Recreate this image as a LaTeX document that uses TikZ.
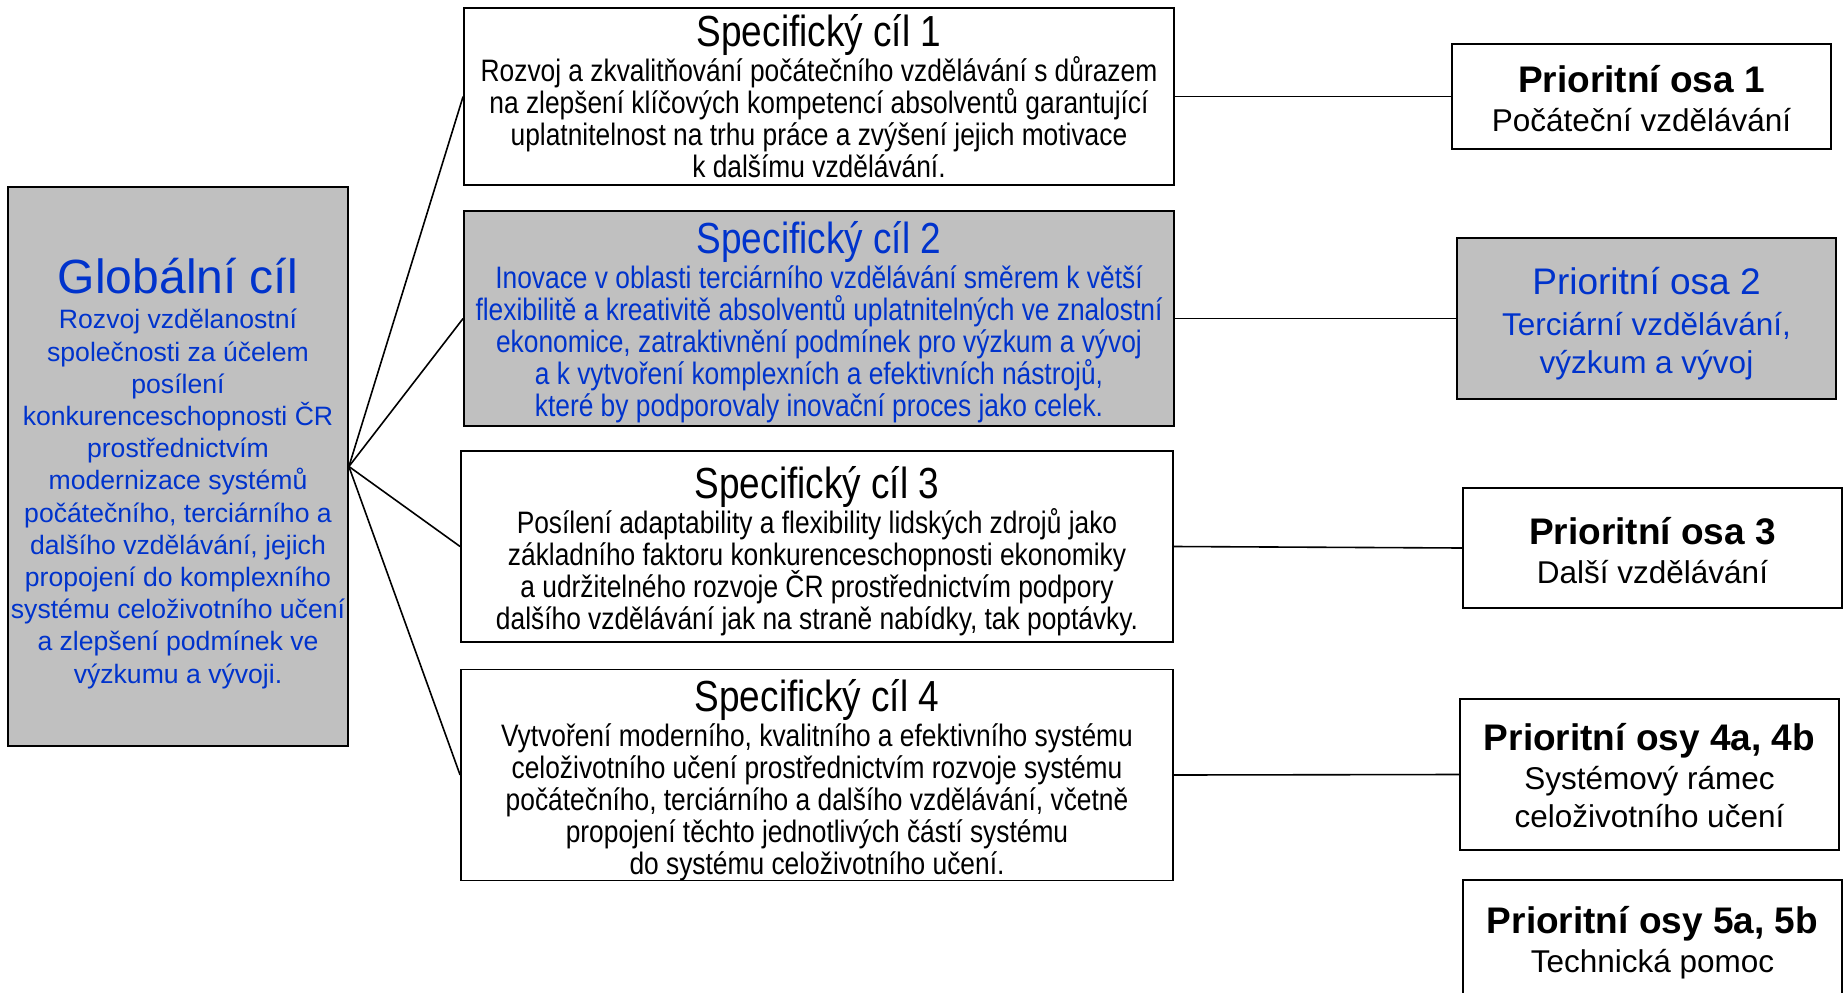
\documentclass[tikz,border=0pt]{standalone}
\usepackage{fontspec}
\setmainfont{Liberation Sans}
\newfontfamily\narrowfont[FakeStretch=0.85]{Liberation Sans}
\usepackage{xcolor}
\usetikzlibrary{positioning}
\definecolor{goalblue}{RGB}{0,51,204}
\definecolor{goalgray}{RGB}{192,192,192}
\newcommand\tightlines{\lineskiplimit=-100pt\relax}
\newcommand\toproom[1]{\rule{0pt}{#1}}
\newcommand\globhead[1]{{\fontsize{48}{32}\selectfont #1}}
\newcommand\cilhead[1]{{\fontsize{43.5}{32}\selectfont #1}}
\newcommand\osahead[1]{{\fontsize{37}{38}\selectfont #1}}

\begin{document}
\begin{tikzpicture}[x=1pt, y=-1pt,
  box/.style={draw=black, line width=1.8pt, inner sep=0pt, align=center},
  hilite/.style={box, fill=goalgray, text=goalblue},
  cilbox/.style={minimum width=710pt, font=\narrowfont\fontsize{31}{32}\selectfont\tightlines},
  osabox/.style={minimum width=379pt, font=\fontsize{31.5}{38}\selectfont\tightlines},
  link/.style={black, line width=1.6pt}]
\clip (0,0) rectangle (1845,993);

% global goal
\node[hilite, minimum width=340pt, minimum height=559pt,
      font=\fontsize{26.6}{32.2}\selectfont\tightlines] (glob) at (178,466.5)
  {\globhead{\toproom{49.5pt}Globální cíl}\\[3pt]
   Rozvoj vzdělanostní\\
   společnosti za účelem\\
   posílení\\
   konkurenceschopnosti ČR\\
   prostřednictvím\\
   modernizace systémů\\
   počátečního, terciárního a\\
   dalšího vzdělávání, jejich\\
   propojení do komplexního\\
   systému celoživotního učení\\
   a zlepšení podmínek ve\\
   výzkumu a vývoji.};

% specific goals
\node[box, cilbox, minimum height=177pt] (sc_1) at (819,96.5)
  {\cilhead{Specifický cíl 1}\\[3pt]
   Rozvoj a zkvalitňování počátečního vzdělávání s důrazem\\
   na zlepšení klíčových kompetencí absolventů garantující\\
   uplatnitelnost na trhu práce a zvýšení jejich motivace\\
   k dalšímu vzdělávání.};
\node[hilite, cilbox, minimum height=215pt] (sc_2) at (819,318.5)
  {\cilhead{\toproom{39.2pt}Specifický cíl 2}\\[3pt]
   Inovace v oblasti terciárního vzdělávání směrem k větší\\
   flexibilitě a kreativitě absolventů uplatnitelných ve znalostní\\
   ekonomice, zatraktivnění podmínek pro výzkum a vývoj\\
   a k vytvoření komplexních a efektivních nástrojů,\\
   které by podporovaly inovační proces jako celek.};
\node[box, cilbox, minimum width=712pt, minimum height=191pt] (sc_3) at (817,546.5)
  {\cilhead{\toproom{41.6pt}Specifický cíl 3}\\[3pt]
   Posílení adaptability a flexibility lidských zdrojů jako\\
   základního faktoru konkurenceschopnosti ekonomiky\\
   a udržitelného rozvoje ČR prostřednictvím podpory\\
   dalšího vzdělávání jak na straně nabídky, tak poptávky.};
\node[box, cilbox, minimum width=712pt, minimum height=210pt] (sc_4) at (817,775)
  {\cilhead{\toproom{41.6pt}Specifický cíl 4}\\[3pt]
   Vytvoření moderního, kvalitního a efektivního systému\\
   celoživotního učení prostřednictvím rozvoje systému\\
   počátečního, terciárního a dalšího vzdělávání, včetně\\
   propojení těchto jednotlivých částí systému\\
   do systému celoživotního učení.};

% priority axes
\node[box, osabox, minimum height=105pt] (po_1) at (1641.5,96.5)
  {\osahead{\bfseries\toproom{31.4pt}Prioritní osa 1}\\[1pt]
   Počáteční vzdělávání};
\node[hilite, osabox, minimum height=161pt] (po_2) at (1646.5,318.5)
  {\osahead{\toproom{36.8pt}Prioritní osa 2}\\[3pt]
   Terciární vzdělávání,\\
   výzkum a vývoj};
\node[box, osabox, minimum height=120pt] (po_3) at (1652.5,548)
  {\osahead{\bfseries\toproom{32.2pt}Prioritní osa 3}\\[1pt]
   Další vzdělávání};
\node[box, osabox, minimum height=151pt] (po_4) at (1649.5,774.5)
  {\osahead{\bfseries\toproom{29pt}Prioritní osy 4a, 4b}\\[1pt]
   Systémový rámec\\
   celoživotního učení};
\node[box, osabox, minimum height=125pt] (po_5) at (1652.5,942.5)
  {\osahead{\bfseries Prioritní osy 5a, 5b}\\[1pt]
   Technická pomoc};

\foreach \i in {1,...,4}
\draw[link] (glob.east) -- (sc_\i.west);

\foreach \i in {1,...,4}
\draw[link] (sc_\i.east) -- (po_\i.west);

\end{tikzpicture}
\end{document}
